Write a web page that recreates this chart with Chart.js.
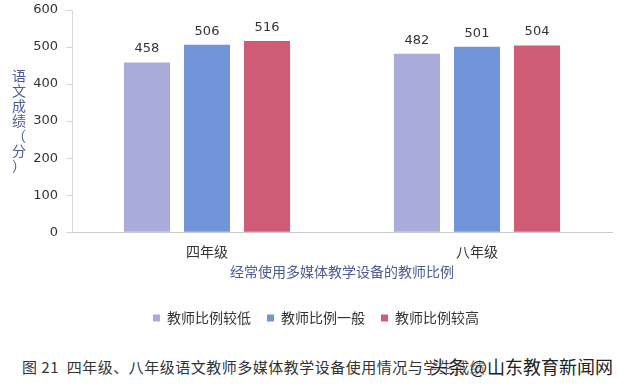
<!DOCTYPE html>
<html>
<head>
<meta charset="utf-8">
<script src="https://cdn.jsdelivr.net/npm/chart.js@4/dist/chart.umd.min.js"></script>
<style>
  html, body { margin: 0; padding: 0; background: #fff; }
  #wrap { position: relative; width: 640px; height: 386px; }
  #chartBox { position: absolute; left: 0; top: 0; width: 640px; height: 335px; }
  #caption { position: absolute; left: 22px; top: 356px; font: 15px "Noto Sans CJK SC", sans-serif; color: #333; white-space: nowrap; letter-spacing: 0.5px; }
  #mark { position: absolute; left: 430px; top: 353px; font: 18px "Noto Sans CJK SC", sans-serif; color: #222; text-shadow: 0 0 2px #fff, 0 0 3px #fff; white-space: nowrap; }
</style>
</head>
<body>
<div id="wrap">
  <div id="chartBox"><canvas id="chart"></canvas></div>
  <div id="caption">图 21&nbsp;&nbsp;四年级、八年级语文教师多媒体教学设备使用情况与学生成绩</div>
  <div id="mark">头条 @山东教育新闻网</div>
</div>
<script>
const grades = ["四年级", "八年级"];
const seriesNames = ["教师比例较低", "教师比例一般", "教师比例较高"];
const lowValues = [458, 482];
const midValues = [506, 501];
const highValues = [516, 504];
const yTicks = [0, 100, 200, 300, 400, 500, 600];
const yTitle = "语文成绩（分）";
const xTitle = "经常使用多媒体教学设备的教师比例";

const colors = ["#a9abdb", "#7294d9", "#d05b74"];
const cjk = '"Noto Sans CJK SC", sans-serif';

const valueLabels = {
  id: "valueLabels",
  afterDatasetsDraw(chart) {
    const ctx = chart.ctx;
    ctx.save();
    ctx.font = "13px 'DejaVu Sans', sans-serif";
    ctx.fillStyle = "#333";
    ctx.textAlign = "center";
    ctx.textBaseline = "bottom";
    chart.data.datasets.forEach((ds, i) => {
      chart.getDatasetMeta(i).data.forEach((bar, j) => {
        ctx.fillText(ds.data[j], bar.x, bar.y - 7);
      });
    });
    ctx.restore();
  },
};

// y title is stacked one char per line, like the original
const verticalTitle = {
  id: "verticalTitle",
  afterDraw(chart) {
    const ctx = chart.ctx;
    ctx.save();
    ctx.font = "14px " + cjk;
    ctx.fillStyle = "#4c5d8f";
    ctx.textAlign = "center";
    ctx.textBaseline = "middle";
    Array.from(yTitle).forEach((c, i) => {
      ctx.fillText(c, 19, 76 + i * 15);
    });
    ctx.restore();
  },
};

new Chart(document.getElementById("chart"), {
  type: "bar",
  data: {
    labels: grades,
    datasets: [
      { label: seriesNames[0], data: lowValues, backgroundColor: colors[0] },
      { label: seriesNames[1], data: midValues, backgroundColor: colors[1] },
      { label: seriesNames[2], data: highValues, backgroundColor: colors[2] },
    ],
  },
  options: {
    responsive: true,
    maintainAspectRatio: false,
    animation: false,
    categoryPercentage: 0.667,
    barPercentage: 0.767,
    layout: { padding: { top: 10, right: 28, left: 20, bottom: 0 } },
    plugins: {
      tooltip: { enabled: false },
      legend: {
        position: "bottom",
        labels: {
          boxWidth: 7,
          boxHeight: 7,
          padding: 16,
          color: "#333",
          font: { family: cjk, size: 14 },
        },
      },
    },
    scales: {
      x: {
        grid: { display: false },
        border: { color: "#c8c8c8", width: 1 },
        ticks: { color: "#333", font: { family: cjk, size: 14 }, padding: 3 },
        title: {
          display: true,
          text: xTitle,
          color: "#4c5d8f",
          font: { family: cjk, size: 14, lineHeight: 1.0 },
          padding: { top: 2, bottom: 16 },
        },
      },
      y: {
        min: 0,
        max: 600,
        afterFit(scale) {
          scale.width = 52;
          scale.paddingTop = 0;
          scale.paddingBottom = 0;
        },
        afterBuildTicks(scale) { scale.ticks = yTicks.map((v) => ({ value: v })); },
        grid: { drawOnChartArea: false, tickLength: 6, color: "#d8d8d8" },
        border: { color: "#d8d8d8", width: 1 },
        ticks: { color: "#333", font: { family: "'DejaVu Sans', sans-serif", size: 13 }, padding: 8 },
      },
    },
  },
  plugins: [valueLabels, verticalTitle],
});
</script>
</body>
</html>
